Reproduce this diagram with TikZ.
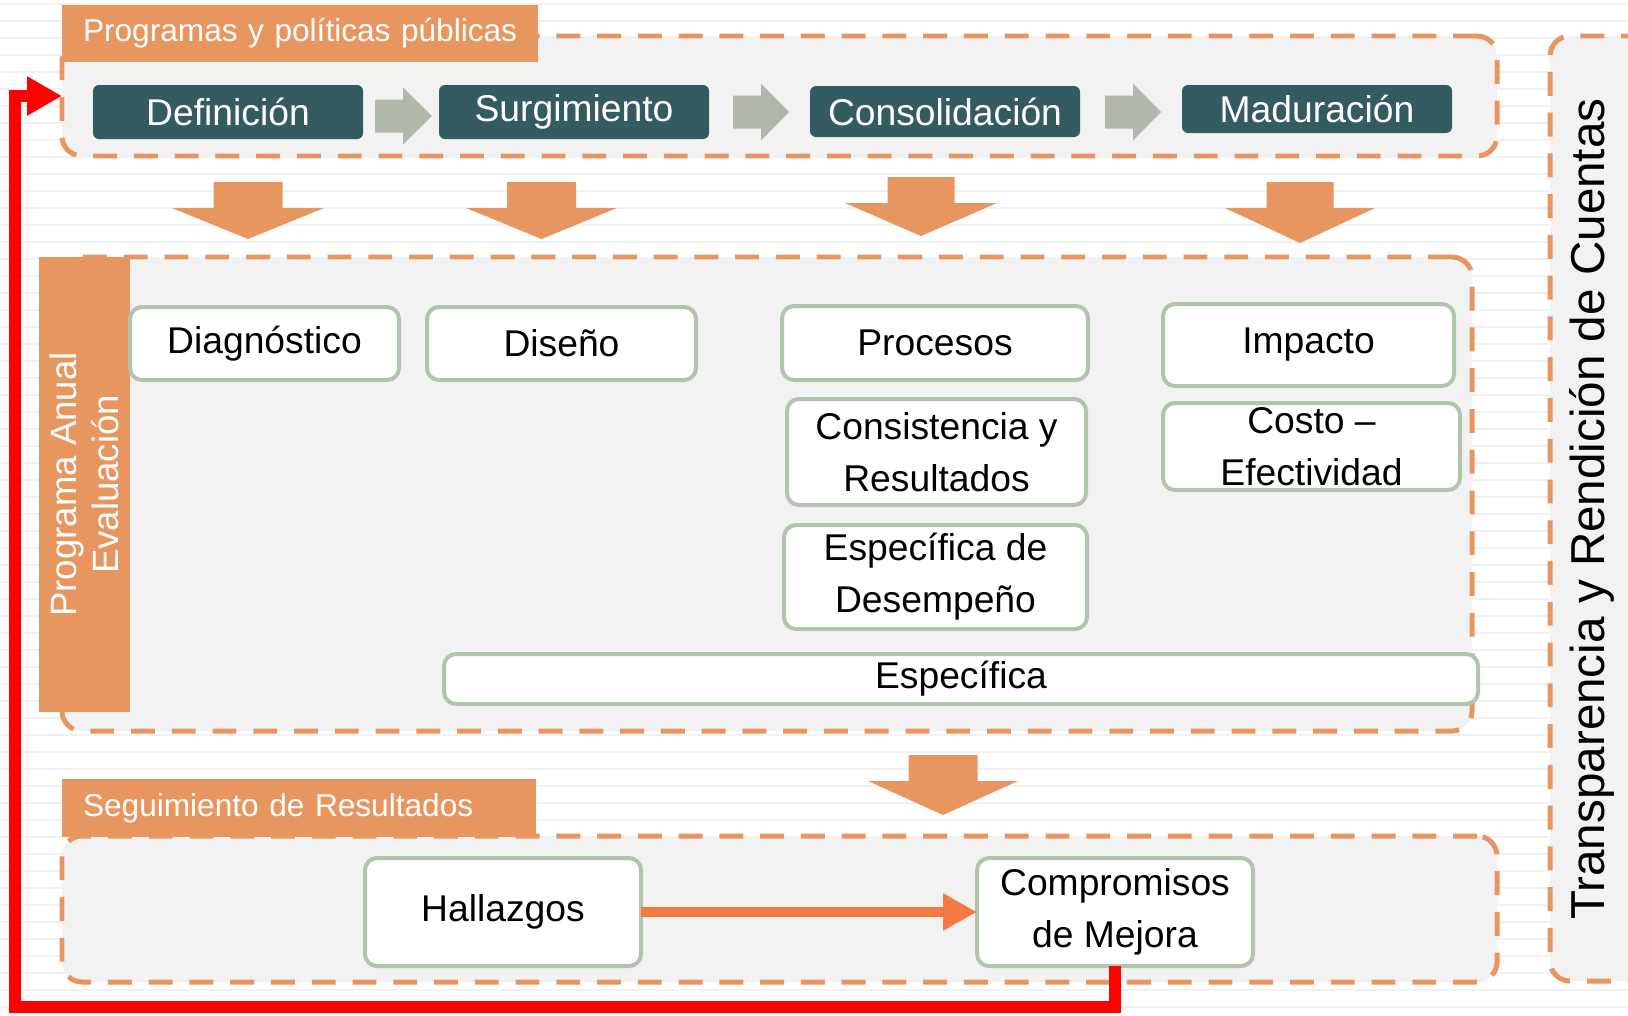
\documentclass[tikz,border=0pt]{standalone}
\usepackage{fontspec}
\setmainfont{Liberation Sans}
\usetikzlibrary{arrows.meta}
\definecolor{cTeal}{HTML}{345B5F}
\definecolor{cGrayArr}{HTML}{B0B8AC}
\definecolor{cOrange}{HTML}{E8965F}
\definecolor{cDash}{HTML}{E8955F}
\definecolor{cPanel}{HTML}{F2F2F2}
\definecolor{cGreen}{HTML}{B3C4AE}
\definecolor{cHall}{HTML}{F37B43}
\definecolor{cRed}{HTML}{FF0000}
\definecolor{cStripe}{HTML}{F1F1F1}
\newcommand\mkbox[7]{\node[#6, minimum width={(#4-#2)*0.02cm}, minimum height={(#5-#3)*0.02cm}] (#1) at ({(#2+#4)/2},{(#3+#5)/2}) {#7};}
\newcommand\darr[6]{\fill[cOrange] (#1-#5,#2) -- (#1+#5,#2) -- (#1+#5,#3) -- (#1+#6,#3) -- (#1,#4) -- (#1-#6,#3) -- (#1-#5,#3) -- cycle;}
\newcommand\rarr[6]{\fill[cGrayArr] (#1,#4-#5) -- (#2,#4-#5) -- (#2,#4-#6) -- (#3,#4) -- (#2,#4+#6) -- (#2,#4+#5) -- (#1,#4+#5) -- cycle;}
\begin{document}
\begin{tikzpicture}[x=0.02cm,y=-0.02cm,
  dbox/.style={draw=cDash, fill=cPanel, line width=2.83pt, dash pattern=on 13.6pt off 9.6pt, rounded corners=0.4cm, inner sep=0pt, outer sep=0pt},
  wbox/.style={draw=cGreen, fill=white, line width=0.08cm, rounded corners=0.24cm, font=\fontsize{21.2pt}{29.5pt}\selectfont, align=center, inner sep=0pt, outer sep=0pt},
  tbox/.style={fill=cTeal, rounded corners=0.12cm, text=white, font=\fontsize{21.2pt}{25pt}\selectfont, inner sep=0pt, outer sep=0pt},
  lblbox/.style={fill=cOrange, text=white, font=\fontsize{18pt}{22pt}\selectfont, inner ysep=0pt, inner xsep=0.42cm, align=left, outer sep=0pt},
  stripe/.style={draw=cStripe, line width=0.03cm}
]
\useasboundingbox (0,0) rectangle (1628,1015);
\clip (0,0) rectangle (1628,1015);
\fill[white] (0,0) rectangle (1628,1015);
\foreach \yy in {4,21,...,1015} \draw[stripe] (0,\yy) -- (1628,\yy);

% dashed panels
\mkbox{topbox}{62}{36}{1497}{156}{dbox}{}
\mkbox{midbox}{62}{257}{1472}{731}{dbox}{}
\mkbox{botbox}{62}{836}{1497}{982}{dbox}{}
\mkbox{rightbox}{1550}{36}{1665}{981}{dbox}{}

% labels
\node[lblbox, text width={(476-42)*0.02cm}, minimum height={57*0.02cm}] (toplbl) at (300,33.5) {\mbox{Programas y políticas públicas}};
\node[lblbox, text width={(474-42)*0.02cm}, minimum height={58*0.02cm}] (botlbl) at (299,808) {\mbox{Seguimiento de Resultados}};
\node[fill=cOrange, text=white, rotate=90, align=center, inner sep=0pt,
      font=\fontsize{20.8pt}{24.4pt}\selectfont,
      minimum width={455*0.02cm}, minimum height={91*0.02cm}] (pal) at (84.5,484.5) {Programa Anual\\Evaluación};
\node[rotate=90, font=\fontsize{27.1pt}{30pt}\selectfont] (trc) at (1592,509) {Transparencia y Rendición de Cuentas};

% stages
\mkbox{defi}{93}{85}{363}{139}{tbox}{Definición}
\mkbox{surg}{439}{85}{709}{139}{tbox}{Surgimiento}
\mkbox{cons}{810}{86}{1080}{137}{tbox}{Consolidación}
\mkbox{madu}{1182}{85}{1452}{133}{tbox}{Maduración}
\rarr{375}{403}{432}{116}{16.5}{28.5}
\rarr{733}{761}{789}{112}{16.5}{28.5}
\rarr{1105}{1133}{1161}{112}{16.5}{28.5}

% down arrows
\darr{248}{182}{208}{239}{34.5}{76}
\darr{541.5}{182}{208}{239}{34.5}{75.5}
\darr{921}{177}{203}{236}{33.5}{76}
\darr{1300}{182}{208}{243}{33.5}{75}
\darr{943}{755}{781}{815}{34.5}{75}

% evaluation types
\mkbox{diag}{130}{307}{399}{380}{wbox}{Diagnóstico}
\mkbox{dise}{427}{307}{696}{380}{wbox}{Diseño}
\mkbox{proc}{782}{306}{1088}{380}{wbox}{Procesos}
\mkbox{cyr}{787}{399}{1086}{505}{wbox}{Consistencia y\\Resultados}
\mkbox{espd}{784}{525}{1087}{629}{wbox}{Específica de\\Desempeño}
\mkbox{impa}{1163}{304}{1454}{386}{wbox}{Impacto}
\mkbox{cost}{1163}{403}{1460}{490}{wbox}{Costo –\\Efectividad}
\mkbox{espe}{444}{654}{1478}{704}{wbox}{Específica}

% follow-up
\mkbox{hall}{365}{858}{641}{966}{wbox}{Hallazgos}
\mkbox{comp}{977}{858}{1253}{966}{wbox}{Compromisos\\de Mejora}
\draw[cHall, line width=0.2cm, -{Triangle[length=0.68cm,width=0.7cm]}] (hall.east) -- (comp.west);
\draw[cRed, line width=0.24cm, -{Triangle[length=0.7cm,width=0.74cm]}] (comp.south) |- (15,1007) |- (topbox.west);
\end{tikzpicture}
\end{document}
